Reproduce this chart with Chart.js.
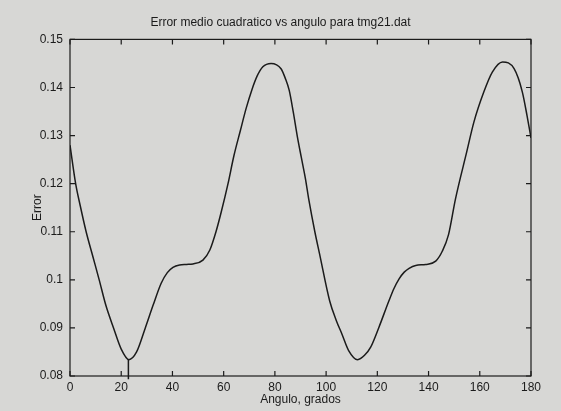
<!DOCTYPE html>
<html>
<head>
<meta charset="utf-8">
<script src="https://cdn.jsdelivr.net/npm/chart.js@4.4.1/dist/chart.umd.min.js"></script>
<style>
  html, body { margin: 0; padding: 0; background: #d7d7d5; }
</style>
</head>
<body>
<canvas id="chart" width="561" height="411"></canvas>
<script>
// angle in degrees, and the mean square error
var angles = [0, 2.2, 4, 6.3, 9, 11.4, 14, 17, 20, 23, 26, 29.4, 32.5, 35.6, 38, 40.2, 42.8, 45.5, 48, 51.9,
  54.6, 57, 59, 61.7, 64, 66.5, 68.8, 71, 73, 75.3, 78.5, 82.4, 84, 85.6, 87.2, 88.7, 90.3, 91.9, 93.3, 95.6,
  97.4, 101.4, 104, 106.2, 108.8, 112.3, 115, 117.4, 120.6, 124.5, 126.5, 128.5, 130.5, 132.4, 135, 138.9, 142.8, 145.4,
  147.8, 150.5, 154.9, 157.7, 161.6, 164.9, 168.9, 173.4, 176.6, 178.5, 180];
var errors = [0.128, 0.120, 0.1154, 0.110, 0.1047, 0.100, 0.0947, 0.090, 0.0856, 0.0834, 0.0850, 0.090, 0.0948, 0.0993, 0.1015, 0.1026, 0.1031, 0.1032, 0.1033, 0.1041,
  0.1062, 0.110, 0.1140, 0.120, 0.1258, 0.131, 0.1357, 0.1395, 0.1423, 0.1443, 0.1450, 0.1439, 0.1420, 0.1394, 0.1348, 0.130, 0.1255, 0.1211, 0.1165, 0.110,
  0.1055, 0.0956, 0.0915, 0.0887, 0.0853, 0.0834, 0.0843, 0.086, 0.0901, 0.0956, 0.0982, 0.1002, 0.1016, 0.1024, 0.1030, 0.1032, 0.1039, 0.106,
  0.1094, 0.1168, 0.1266, 0.1328, 0.1391, 0.1432, 0.1453, 0.1439, 0.1391, 0.134, 0.1295];

// little vertical mark at the first minimum
var markAngle = [22.8, 22.8];
var markError = [0.0834, 0.0793];

var xTicks = [0, 20, 40, 60, 80, 100, 120, 140, 160, 180];
var yTicks = [0.08, 0.09, 0.1, 0.11, 0.12, 0.13, 0.14, 0.15];

var ink = '#1b1b1b';
var font = 'Liberation Sans, Arial, Helvetica, sans-serif';

function points(xs, ys) {
  return xs.map(function(x, i) { return {x: x, y: ys[i]}; });
}

// paper colour behind, matlab style box with inward ticks on top
var boxPlugin = {
  id: 'box',
  beforeDraw: function(chart) {
    var c = chart.ctx;
    c.save();
    c.fillStyle = '#d7d7d5';
    c.fillRect(0, 0, chart.width, chart.height);
    c.restore();
  },
  afterDraw: function(chart) {
    var c = chart.ctx, a = chart.chartArea;
    var sx = chart.scales.x, sy = chart.scales.y;
    var t = 5;
    c.save();
    c.strokeStyle = ink;
    c.lineWidth = 1.2;
    c.strokeRect(a.left, a.top, a.right - a.left, a.bottom - a.top);
    c.beginPath();
    xTicks.forEach(function(v) {
      var px = sx.getPixelForValue(v);
      c.moveTo(px, a.bottom); c.lineTo(px, a.bottom - t);
      c.moveTo(px, a.top); c.lineTo(px, a.top + t);
    });
    yTicks.forEach(function(v) {
      var py = sy.getPixelForValue(v);
      c.moveTo(a.left, py); c.lineTo(a.left + t, py);
      c.moveTo(a.right, py); c.lineTo(a.right - t, py);
    });
    c.stroke();
    c.restore();
  }
};

var config = {
  type: 'line',
  data: {
    datasets: [{
      data: points(angles, errors),
      borderColor: ink,
      borderWidth: 1.5,
      pointRadius: 0,
      cubicInterpolationMode: 'monotone'
    }, {
      data: points(markAngle, markError),
      borderColor: ink,
      borderWidth: 1.5,
      pointRadius: 0,
      clip: false
    }]
  },
  options: {
    responsive: false,
    animation: false,
    layout: { padding: { left: 30, right: 30, top: 0, bottom: 0 } },
    plugins: {
      legend: { display: false },
      tooltip: { enabled: false },
      title: {
        display: true,
        text: 'Error medio cuadratico vs angulo para tmg21.dat',
        color: ink,
        font: { family: font, size: 12, weight: 'normal' },
        padding: { top: 15, bottom: 10 }
      }
    },
    scales: {
      x: {
        type: 'linear',
        min: 0,
        max: 180,
        afterBuildTicks: function(s) { s.ticks = xTicks.map(function(v) { return {value: v}; }); },
        afterFit: function(s) { s.height = 35; },
        grid: { display: false, drawTicks: false },
        border: { display: false },
        ticks: { color: ink, padding: 4, maxRotation: 0, font: { family: font, size: 12 } },
        title: {
          display: true,
          text: 'Angulo, grados',
          color: ink,
          font: { family: font, size: 12 },
          padding: { top: 0, bottom: 4 }
        }
      },
      y: {
        min: 0.08,
        max: 0.15,
        afterBuildTicks: function(s) { s.ticks = yTicks.map(function(v) { return {value: v}; }); },
        afterFit: function(s) { s.width = 40; },
        grid: { display: false, drawTicks: false },
        border: { display: false },
        ticks: {
          color: ink,
          padding: 7,
          font: { family: font, size: 12 },
          callback: function(v) { return String(Number(v.toFixed(2))); }
        },
        title: {
          display: true,
          text: 'Error',
          color: ink,
          font: { family: font, size: 12 },
          padding: { top: 0, bottom: 0 }
        }
      }
    }
  },
  plugins: [boxPlugin]
};

window.myChart = new Chart(document.getElementById('chart').getContext('2d'), config);
</script>
</body>
</html>
